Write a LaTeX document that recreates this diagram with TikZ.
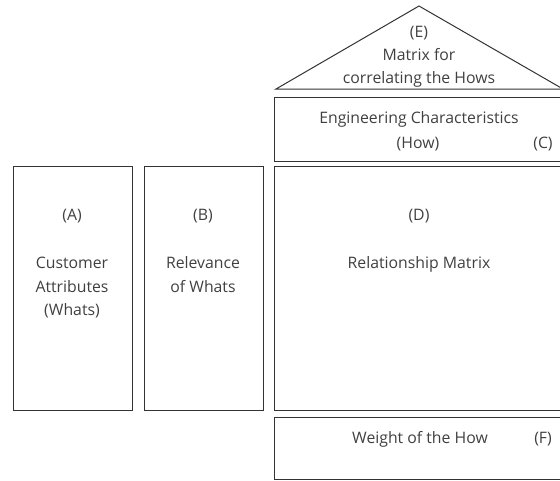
\documentclass[tikz,border=0pt]{standalone}
\usepackage{fontspec}
\setmainfont{Open Sans}
\begin{document}
\begin{tikzpicture}[x=1pt,y=-1pt,
  boxline/.style={draw=black!80,line width=1pt},
  lbl/.style={text=black!75,font=\fontsize{15.8}{20}\selectfont,inner sep=0pt,anchor=base}]
\useasboundingbox (0,0) rectangle (560,480);
\clip (0,0) rectangle (560,480);
% boxes
\draw[boxline] (276,89) -- (419,6) -- (563,89) -- cycle;
\node[boxline,inner sep=0pt,minimum width=290pt,minimum height=64pt,anchor=north west] (C) at (274,97) {};
\node[boxline,inner sep=0pt,minimum width=290pt,minimum height=244pt,anchor=north west] (D) at (274,166) {};
\node[boxline,inner sep=0pt,minimum width=290pt,minimum height=62pt,anchor=north west] (F) at (274,417) {};
\node[boxline,inner sep=0pt,minimum width=119pt,minimum height=244pt,anchor=north west] (A) at (13,166) {};
\node[boxline,inner sep=0pt,minimum width=119pt,minimum height=244pt,anchor=north west] (B) at (144,166) {};
% texts (baselines)
\node[lbl] (tE1) at (419,37) {(E)};
\node[lbl] (tE2) at (419,60) {Matrix for};
\node[lbl] (tE3) at (419,83) {correlating the Hows};
\node[lbl] (tC1) at (419,123) {Engineering Characteristics};
\node[lbl] (tC2) at (418,148) {(How)};
\node[lbl] (tCl) at (543,148) {(C)};
\node[lbl] (tA1) at (72,220) {(A)};
\node[lbl] (tA2) at (72,268) {Customer};
\node[lbl] (tA3) at (72,292) {Attributes};
\node[lbl] (tA4) at (72,315) {(Whats)};
\node[lbl] (tB1) at (203,220) {(B)};
\node[lbl] (tB2) at (203,268) {Relevance};
\node[lbl] (tB3) at (203,292) {of Whats};
\node[lbl] (tD1) at (419,220) {(D)};
\node[lbl] (tD2) at (419,268) {Relationship Matrix};
\node[lbl] (tF) at (420,443) {Weight of the How};
\node[lbl] (tFl) at (543,443) {(F)};
\end{tikzpicture}
\end{document}
